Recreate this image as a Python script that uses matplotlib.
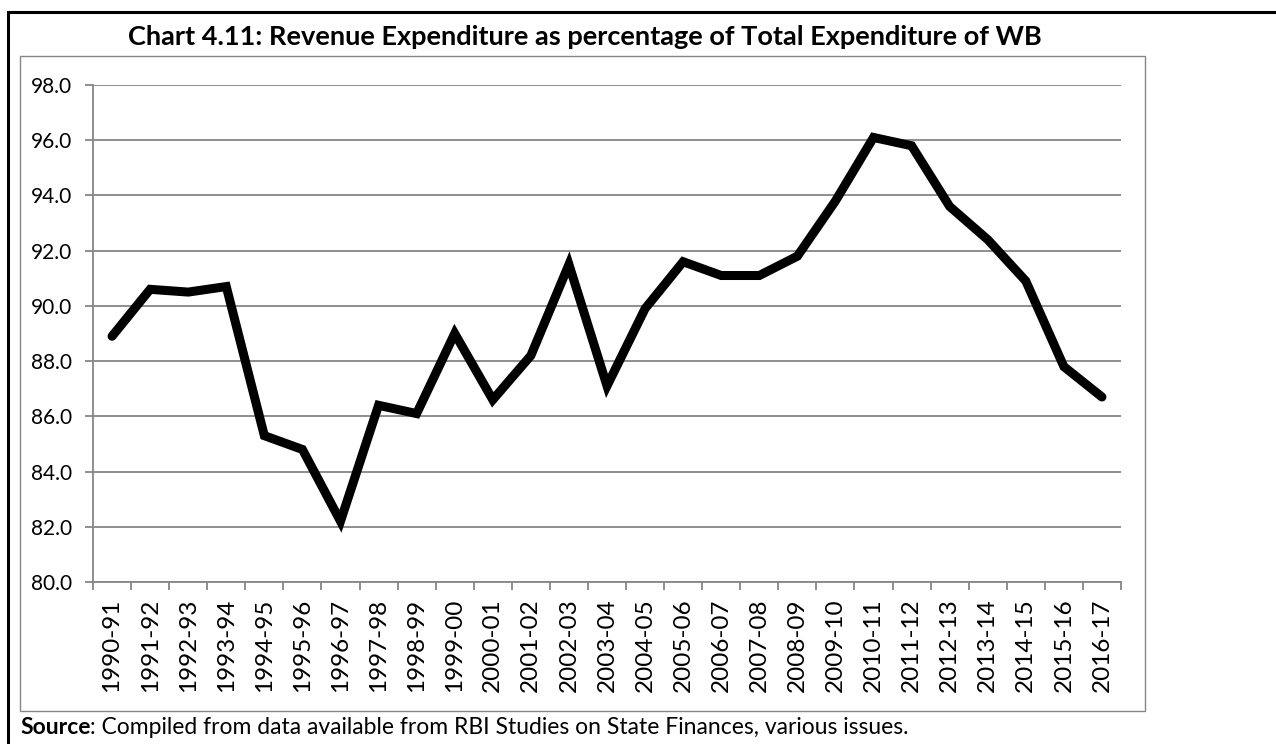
import numpy as np
import matplotlib
matplotlib.use("Agg")
import matplotlib.pyplot as plt
from matplotlib.patches import Rectangle

# Revenue expenditure as % of total expenditure, West Bengal
years = ["1990-91", "1991-92", "1992-93", "1993-94", "1994-95", "1995-96",
         "1996-97", "1997-98", "1998-99", "1999-00", "2000-01", "2001-02",
         "2002-03", "2003-04", "2004-05", "2005-06", "2006-07", "2007-08",
         "2008-09", "2009-10", "2010-11", "2011-12", "2012-13", "2013-14",
         "2014-15", "2015-16", "2016-17"]
rev_share = [88.9, 90.6, 90.5, 90.7, 85.3, 84.8, 82.2, 86.4, 86.1, 89.0,
             86.6, 88.2, 91.5, 87.1, 89.9, 91.6, 91.1, 91.1, 91.8, 93.8,
             96.1, 95.8, 93.6, 92.4, 90.9, 87.8, 86.7]
y_ticks = [80, 82, 84, 86, 88, 90, 92, 94, 96, 98]

W, H = 1276, 744
plt.rcParams['font.family'] = ['Lato', 'DejaVu Sans']
fig = plt.figure(figsize=(W / 100, H / 100), dpi=100)

def fx(px):
    return px / W

def fy(py):
    return 1 - py / H

grey = '#868686'

# outer frame (only left/top fall inside the image)
fig.patches.append(Rectangle((fx(8), fy(760)), fx(1300), fy(12) - fy(760),
                             transform=fig.transFigure, fill=False,
                             edgecolor='black', linewidth=2.2))
# chart area box
fig.patches.append(Rectangle((fx(20), fy(711)), fx(1145 - 20), fy(56) - fy(711),
                             transform=fig.transFigure, fill=False,
                             edgecolor=grey, linewidth=1.0))

ax = fig.add_axes([fx(93), fy(582), fx(1121 - 93), fy(85) - fy(582)])
x = np.arange(len(years))
ax.plot(x, rev_share, color='black', linewidth=6.5, solid_joinstyle='miter',
        solid_capstyle='round')

ax.set_xlim(-0.5, len(years) - 0.5)
ax.set_ylim(80, 98)
ax.set_yticks(y_ticks)
ax.set_yticklabels([f"{v:.1f}" for v in y_ticks], fontsize=15)
ax.yaxis.grid(True, color=grey, linewidth=1.3)
ax.set_axisbelow(True)

ax.set_xticks(x)
ax.set_xticklabels(years, rotation=90, fontsize=17.5)
ax.set_xticks(np.arange(-0.5, len(years)), minor=True)
ax.tick_params(axis='x', which='major', length=0, pad=12)
ax.tick_params(axis='x', which='minor', length=6, color=grey, width=1.3)
ax.tick_params(axis='y', length=6, color=grey, width=1.3, pad=9)

for side in ['top', 'right']:
    ax.spines[side].set_visible(False)
for side in ['left', 'bottom']:
    ax.spines[side].set_color(grey)
    ax.spines[side].set_linewidth(1.3)

fig.text(fx(585), fy(37), "Chart 4.11: Revenue Expenditure as percentage of Total Expenditure of WB",
         ha='center', va='center', fontsize=19.5, fontweight='bold')

# source note: bold lead word followed by the plain remainder
src = fig.text(fx(20), fy(728), "Source", ha='left', va='center', fontsize=16.5,
               fontweight='bold')
renderer = fig.canvas.get_renderer()
bb = src.get_window_extent(renderer=renderer)
fig.text(bb.x1 / W, fy(728), ": Compiled from data available from RBI Studies on State Finances, various issues.",
         ha='left', va='center', fontsize=16.5)

fig.savefig("out.png", dpi=100)
